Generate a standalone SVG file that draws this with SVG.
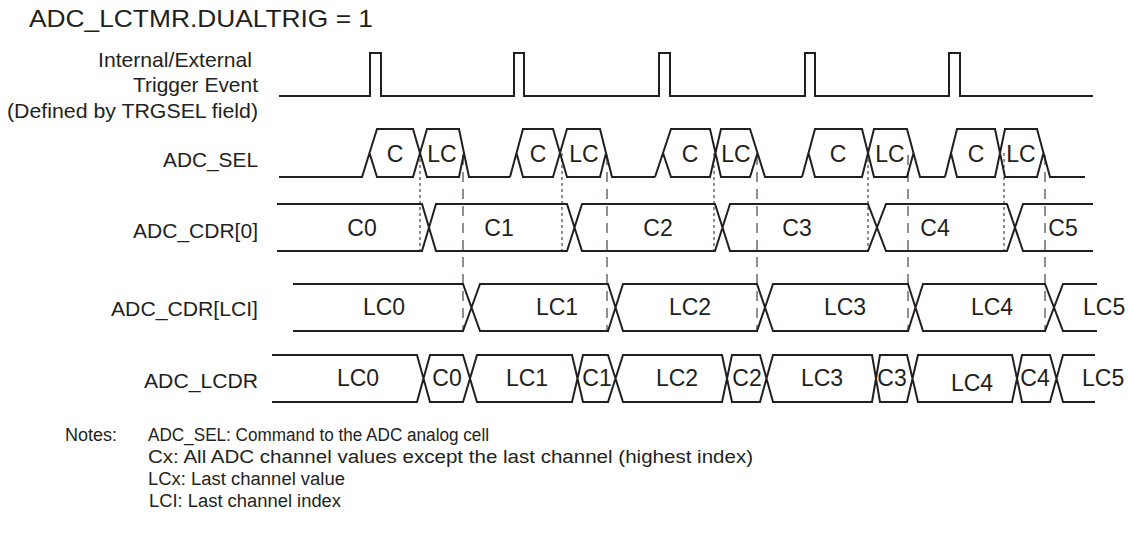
<svg xmlns="http://www.w3.org/2000/svg" width="1128" height="535" viewBox="0 0 1128 535">
<style>
text{font-family:"Liberation Sans",Arial,sans-serif;fill:#231f20}
.lbl{font-size:21px;text-anchor:end}
.sig{font-size:23px;text-anchor:middle}
.note{font-size:18px}
.w{fill:none;stroke:#231f20;stroke-width:2;stroke-linejoin:miter}
.fd{fill:none;stroke:#231f20;stroke-width:1;stroke-dasharray:3 3}
.ld{fill:none;stroke:#231f20;stroke-width:1;stroke-dasharray:10 7}
</style>
<rect width="1128" height="535" fill="#fff"/>
<text id="title" x="29" y="27" font-size="24" textLength="344" lengthAdjust="spacingAndGlyphs">ADC_LCTMR.DUALTRIG = 1</text>

<g id="trigger">
<text class="lbl" x="252" y="67" textLength="154" lengthAdjust="spacingAndGlyphs">Internal/External</text>
<text class="lbl" x="258" y="92" textLength="125" lengthAdjust="spacingAndGlyphs">Trigger Event</text>
<text class="lbl" x="258" y="118" textLength="251" lengthAdjust="spacingAndGlyphs">(Defined by TRGSEL field)</text>
<path class="w" d="M279,96 H370 V53 H381 V96 H514 V53 H524 V96 H659 V53 H670 V96 H805 V53 H815 V96 H949 V53 H960 V96 H1093"/>
</g>

<g id="adc_sel">
<text class="lbl" x="258" y="167" textLength="95" lengthAdjust="spacingAndGlyphs">ADC_SEL</text>
<path class="w" d="M279,177 H362 L377,129 H413 L427,177 H459 L464,153 M369.5,153 L377,177 H413 L427,129 H459 L469,177 H510
M510,177 L523,129 H553 L567,177 H600 L606,153 M516.5,153 L523,177 H553 L567,129 H600 L612,177 H655
M655,177 L671,129 H710 L721,177 H750 L757.5,153 M663,153 L671,177 H710 L721,129 H750 L765,177 H802
M802,177 L815,129 H862 L874,177 H907 L913.5,153 M808.5,153 L815,177 H862 L874,129 H907 L920,177 H945
M945,177 L957,129 H995 L1005,177 H1037 L1043.5,153 M951,153 L957,177 H995 L1005,129 H1037 L1050,177 H1085"/>
<text class="sig" x="395" y="162">C</text><text class="sig" x="442" y="162">LC</text>
<text class="sig" x="538" y="162">C</text><text class="sig" x="584" y="162">LC</text>
<text class="sig" x="690" y="162">C</text><text class="sig" x="736" y="162">LC</text>
<text class="sig" x="838" y="162">C</text><text class="sig" x="890" y="162">LC</text>
<text class="sig" x="976" y="162">C</text><text class="sig" x="1021" y="162">LC</text>
</g>

<g id="adc_cdr0">
<text class="lbl" x="258" y="238" textLength="125" lengthAdjust="spacingAndGlyphs">ADC_CDR[0]</text>
<path class="w" d="M277,204 H422 L436,251 H567 L582,204 H715 L730,251 H868 L886,204 H1007 L1023,251 H1093 M277,251 H422 L436,204 H567 L582,251 H715 L730,204 H868 L886,251 H1007 L1023,204 H1093"/>
<text class="sig" x="362" y="236">C0</text>
<text class="sig" x="499" y="236">C1</text>
<text class="sig" x="658" y="236">C2</text>
<text class="sig" x="797" y="236">C3</text>
<text class="sig" x="935" y="236">C4</text>
<text class="sig" x="1063" y="236">C5</text>
</g>

<g id="adc_cdr_lci">
<text class="lbl" x="258" y="316" textLength="147" lengthAdjust="spacingAndGlyphs">ADC_CDR[LCI]</text>
<path class="w" d="M293,284 H463 L480,331 H608 L623,284 H757 L773,331 H908 L923,284 H1045 L1063,331 H1097 M293,331 H463 L480,284 H608 L623,331 H757 L773,284 H908 L923,331 H1045 L1063,284 H1097"/>
<text class="sig" x="384" y="315">LC0</text>
<text class="sig" x="557" y="315">LC1</text>
<text class="sig" x="690" y="315">LC2</text>
<text class="sig" x="845" y="315">LC3</text>
<text class="sig" x="992" y="315">LC4</text>
<text class="sig" x="1083" y="315" style="text-anchor:start">LC5</text>
</g>

<g id="adc_lcdr">
<text class="lbl" x="258" y="388" textLength="114" lengthAdjust="spacingAndGlyphs">ADC_LCDR</text>
<path class="w" d="M272,355 H417 L430,402 H463 L477,355 H572 L583,402 H608 L623,355 H722 L732,402 H760 L773,355 H872 L880,402 H907 L918,355 H1012 L1022,402 H1050 L1063,355 H1095 M272,402 H417 L430,355 H463 L477,402 H572 L583,355 H608 L623,402 H722 L732,355 H760 L773,402 H872 L880,355 H907 L918,402 H1012 L1022,355 H1050 L1063,402 H1095"/>
<text class="sig" x="358" y="386">LC0</text>
<text class="sig" x="447" y="386">C0</text>
<text class="sig" x="527" y="386">LC1</text>
<text class="sig" x="597" y="386">C1</text>
<text class="sig" x="677" y="386">LC2</text>
<text class="sig" x="747" y="386">C2</text>
<text class="sig" x="822" y="386">LC3</text>
<text class="sig" x="892" y="386">C3</text>
<text class="sig" x="972" y="391" font-size="26">LC4</text>
<text class="sig" x="1035" y="386">C4</text>
<text class="sig" x="1082" y="386" style="text-anchor:start">LC5</text>
</g>

<g id="connectors">
<path class="fd" d="M420,153 V251 M562,153 V251 M714,153 V251 M868,153 V251 M1004,153 V251"/>
<path class="ld" d="M463,155 V332 M607,155 V332 M757,155 V332 M908,155 V332 M1045,155 V332"/>
</g>

<g id="notes">
<text class="note" x="65" y="441">Notes:</text>
<text class="note" x="148" y="441" textLength="341" lengthAdjust="spacingAndGlyphs">ADC_SEL: Command to the ADC analog cell</text>
<text class="note" x="148" y="463" textLength="605" lengthAdjust="spacingAndGlyphs">Cx: All ADC channel values except the last channel (highest index)</text>
<text class="note" x="148" y="485" textLength="197" lengthAdjust="spacingAndGlyphs">LCx: Last channel value</text>
<text class="note" x="149" y="507" textLength="192" lengthAdjust="spacingAndGlyphs">LCI: Last channel index</text>
</g>
</svg>
